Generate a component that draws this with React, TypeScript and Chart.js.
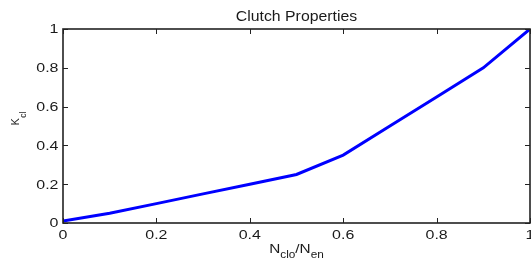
import React, { useEffect, useRef } from "react";
import { Chart, registerables } from "chart.js";

Chart.register(...registerables);

const ratioValues = [0, 0.1, 0.2, 0.3, 0.4, 0.5, 0.6, 0.7, 0.8, 0.9, 1];
const kclValues = [0.01, 0.05, 0.1, 0.15, 0.2, 0.25, 0.35, 0.5, 0.65, 0.8, 1];
const xTickValues = [0, 0.2, 0.4, 0.6, 0.8, 1];
const xTickLabels = ["0", "0.2", "0.4", "0.6", "0.8", "1"];
const yTickValues = [0, 0.2, 0.4, 0.6, 0.8, 1];
const yTickLabels = ["0", "0.2", "0.4", "0.6", "0.8", "1"];
const titleText = "Clutch Properties";

const FONT = '"Liberation Sans", Arial, Helvetica, sans-serif';

function stretchedText(
  ctx: CanvasRenderingContext2D,
  text: string,
  x: number,
  y: number,
  sx: number,
  align: "left" | "center" | "right"
) {
  const w = ctx.measureText(text).width * sx;
  let left = x;
  if (align === "center") left = x - w / 2;
  if (align === "right") left = x - w;
  ctx.save();
  ctx.translate(left, y);
  ctx.scale(sx, 1);
  ctx.textAlign = "left";
  ctx.fillText(text, 0, 0);
  ctx.restore();
}

const matlabPlugin = {
  id: "matlabAxes",
  afterDraw(chart: any) {
    const ctx: CanvasRenderingContext2D = chart.ctx;
    const { left, right, top, bottom } = chart.chartArea;
    const xs = chart.scales.x;
    const ys = chart.scales.y;
    ctx.save();
    // box
    ctx.strokeStyle = "#222";
    ctx.lineWidth = 1.6;
    ctx.strokeRect(left, top, right - left, bottom - top);
    // inward ticks
    ctx.lineWidth = 1;
    const tl = 5;
    ctx.beginPath();
    xTickValues.forEach((v) => {
      const px = Math.round(xs.getPixelForValue(v)) + 0.5;
      ctx.moveTo(px, bottom);
      ctx.lineTo(px, bottom - tl);
      ctx.moveTo(px, top);
      ctx.lineTo(px, top + tl);
    });
    yTickValues.forEach((v) => {
      const py = Math.round(ys.getPixelForValue(v)) + 0.5;
      ctx.moveTo(left, py);
      ctx.lineTo(left + tl, py);
      ctx.moveTo(right, py);
      ctx.lineTo(right - tl, py);
    });
    ctx.stroke();

    // tick labels
    ctx.fillStyle = "#1a1a1a";
    ctx.font = `12px ${FONT}`;
    ctx.textBaseline = "alphabetic";
    xTickValues.forEach((v, i) => {
      const px = xs.getPixelForValue(v);
      stretchedText(ctx, xTickLabels[i], px, bottom + 16, 1.33, "center");
    });
    yTickValues.forEach((v, i) => {
      const py = ys.getPixelForValue(v);
      stretchedText(ctx, yTickLabels[i], left - 4.5, py + 4.3, 1.33, "right");
    });

    // title
    ctx.font = `14px ${FONT}`;
    stretchedText(ctx, titleText, (left + right) / 2, top - 8, 1.13, "center");

    // x label N_clo/N_en
    const sx = 1.18;
    const parts: [string, boolean][] = [
      ["N", false],
      ["clo", true],
      ["/N", false],
      ["en", true],
    ];
    let total = 0;
    parts.forEach(([t, sub]) => {
      ctx.font = `${sub ? 10 : 13}px ${FONT}`;
      total += ctx.measureText(t).width * sx;
    });
    let cx = (left + right) / 2 - total / 2;
    const base = bottom + 29.5;
    parts.forEach(([t, sub]) => {
      ctx.font = `${sub ? 10 : 13}px ${FONT}`;
      stretchedText(ctx, t, cx, sub ? base + 5 : base, sx, "left");
      cx += ctx.measureText(t).width * sx;
    });

    // y label K_cl (rotated)
    ctx.save();
    ctx.translate(left - 44.5, 125.5);
    ctx.rotate(-Math.PI / 2);
    ctx.font = `11px ${FONT}`;
    ctx.textAlign = "left";
    ctx.fillText("K", 0, 0);
    const kw = ctx.measureText("K").width;
    ctx.font = `8.5px ${FONT}`;
    ctx.fillText("cl", kw + 0.5, 7.5);
    ctx.restore();

    ctx.restore();
  },
};

export default function App() {
  const ref = useRef<HTMLCanvasElement | null>(null);
  useEffect(() => {
    if (!ref.current) return;
    const chart = new Chart(ref.current, {
      type: "line",
      data: {
        labels: ratioValues,
        datasets: [
          {
            data: ratioValues.map((x, i) => ({ x, y: kclValues[i] })),
            borderColor: "#0000ff",
            borderWidth: 3,
            pointRadius: 0,
            tension: 0,
            fill: false,
          },
        ],
      },
      options: {
        animation: false,
        responsive: false,
        maintainAspectRatio: false,
        layout: { padding: { left: 63, top: 29, right: 1, bottom: 35 } },
        plugins: {
          legend: { display: false },
          tooltip: { enabled: false },
          title: { display: false },
        },
        scales: {
          x: { type: "linear", min: 0, max: 1, display: false },
          y: { type: "linear", min: 0, max: 1, display: false },
        },
      },
      plugins: [matlabPlugin],
    });
    return () => chart.destroy();
  }, []);
  return (
    <div style={{ position: "fixed", left: 0, top: 0, width: 531, height: 258, background: "#fff" }}>
      <canvas ref={ref} width={531} height={258} style={{ display: "block" }} />
    </div>
  );
}
